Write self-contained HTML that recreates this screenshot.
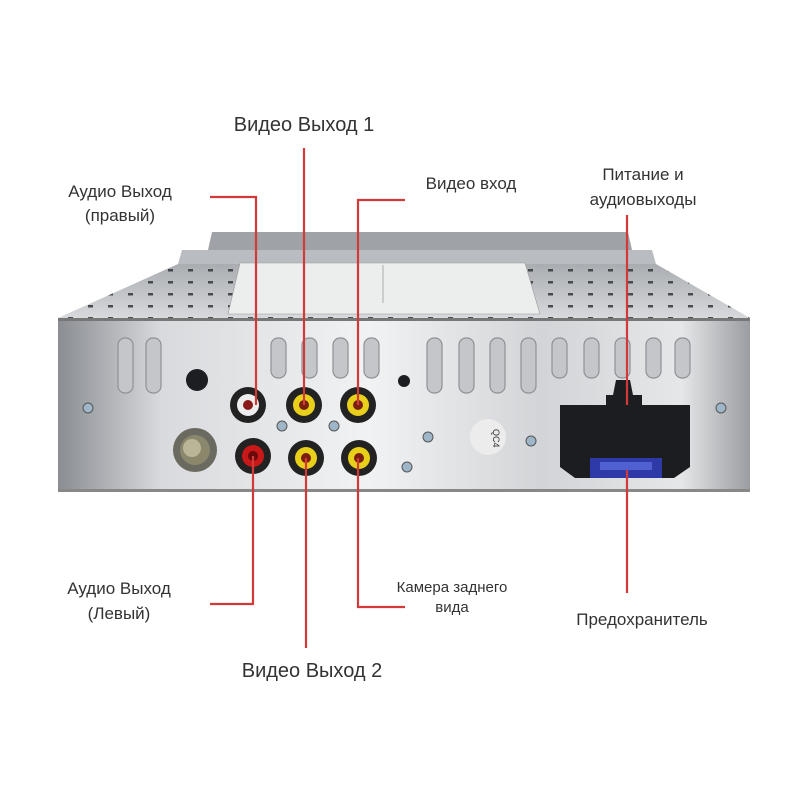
<!DOCTYPE html>
<html><head><meta charset="utf-8"><style>
body{margin:0;background:#fff}
svg{display:block}
text{font-family:"Liberation Sans","DejaVu Sans",sans-serif;fill:#333}
</style></head><body>
<svg width="800" height="800" viewBox="0 0 800 800" xmlns="http://www.w3.org/2000/svg">
<defs>
<linearGradient id="front" x1="0" x2="1" y1="0" y2="0">
<stop offset="0" stop-color="#8a8d92"/><stop offset="0.15" stop-color="#d8dadd"/>
<stop offset="0.45" stop-color="#f1f2f3"/><stop offset="0.7" stop-color="#d2d4d7"/>
<stop offset="0.9" stop-color="#e6e7e9"/><stop offset="1" stop-color="#9a9da1"/>
</linearGradient>
<linearGradient id="top" x1="0" x2="0" y1="0" y2="1">
<stop offset="0" stop-color="#a9acb0"/><stop offset="1" stop-color="#d7d9dc"/>
</linearGradient>
<pattern id="holes" width="20" height="12" patternUnits="userSpaceOnUse">
<rect x="8" y="5" width="5" height="2.5" fill="#2a2c30"/>
</pattern>
</defs>
<!-- top layers -->
<polygon points="212,232 628,232 632,250 208,250" fill="#9fa2a6"/>
<polygon points="182,250 652,250 656,264 178,264" fill="#b9bcc0"/>
<polygon points="178,264 656,264 750,318 58,318" fill="url(#top)"/>
<polygon points="178,264 656,264 750,318 58,318" fill="url(#holes)" opacity="0.8"/>
<polygon points="240,263 525,263 540,314 228,314" fill="#eceded" stroke="#999" stroke-width="0.6"/>
<line x1="383" y1="265" x2="383" y2="303" stroke="#aaa"/>
<!-- front -->
<rect x="58" y="318" width="692" height="174" fill="url(#front)"/>
<rect x="58" y="318" width="692" height="3" fill="#777"/>
<rect x="58" y="489" width="692" height="3" fill="#888"/>
<!-- slots -->
<g fill="#c4c6c9" stroke="#8e9196" stroke-width="1.2">
<rect x="118" y="338" width="15" height="55" rx="7"/>
<rect x="146" y="338" width="15" height="55" rx="7"/>
<rect x="271" y="338" width="15" height="40" rx="7"/>
<rect x="302" y="338" width="15" height="40" rx="7"/>
<rect x="333" y="338" width="15" height="40" rx="7"/>
<rect x="364" y="338" width="15" height="40" rx="7"/>
<rect x="427" y="338" width="15" height="55" rx="7"/>
<rect x="459" y="338" width="15" height="55" rx="7"/>
<rect x="490" y="338" width="15" height="55" rx="7"/>
<rect x="521" y="338" width="15" height="55" rx="7"/>
<rect x="552" y="338" width="15" height="40" rx="7"/>
<rect x="584" y="338" width="15" height="40" rx="7"/>
<rect x="615" y="338" width="15" height="40" rx="7"/>
<rect x="646" y="338" width="15" height="40" rx="7"/>
<rect x="675" y="338" width="15" height="40" rx="7"/>
</g>
<!-- holes -->
<circle cx="197" cy="380" r="11" fill="#1d1e21"/>
<circle cx="404" cy="381" r="6" fill="#1d1e21"/>
<circle cx="195" cy="450" r="22" fill="#6a6a60"/><circle cx="195" cy="450" r="15" fill="#8a876c"/><circle cx="192" cy="448" r="9" fill="#b9b597"/>
<!-- screws -->
<g fill="#9fb6c8" stroke="#555" stroke-width="1">
<circle cx="88" cy="408" r="5"/><circle cx="721" cy="408" r="5"/>
<circle cx="428" cy="437" r="5"/><circle cx="531" cy="441" r="5"/><circle cx="407" cy="467" r="5"/>
<circle cx="282" cy="426" r="5"/><circle cx="334" cy="426" r="5"/>
</g>
<circle cx="488" cy="437" r="18" fill="#ececec"/>
<text x="480" y="432" font-size="9" transform="rotate(90 488 437)" fill="#444">QC4</text>
<!-- RCA -->
<g>
<circle cx="248" cy="405" r="18" fill="#222"/><circle cx="248" cy="405" r="11" fill="#eee"/><circle cx="248" cy="405" r="5" fill="#8a1a1a"/>
<circle cx="304" cy="405" r="18" fill="#222"/><circle cx="304" cy="405" r="11" fill="#e8d01a"/><circle cx="304" cy="405" r="5" fill="#7a1e10"/>
<circle cx="358" cy="405" r="18" fill="#222"/><circle cx="358" cy="405" r="11" fill="#e8d01a"/><circle cx="358" cy="405" r="5" fill="#7a1e10"/>
<circle cx="253" cy="456" r="18" fill="#222"/><circle cx="253" cy="456" r="11" fill="#c81818"/><circle cx="253" cy="456" r="5" fill="#6a0a0a"/>
<circle cx="306" cy="458" r="18" fill="#222"/><circle cx="306" cy="458" r="11" fill="#e8d01a"/><circle cx="306" cy="458" r="5" fill="#7a1e10"/>
<circle cx="359" cy="458" r="18" fill="#222"/><circle cx="359" cy="458" r="11" fill="#e8d01a"/><circle cx="359" cy="458" r="5" fill="#7a1e10"/>
</g>
<!-- connector -->
<polygon points="616,380 630,380 633,395 642,395 642,405 690,405 690,467 674,478 575,478 560,467 560,405 606,405 606,395 613,395" fill="#1c1d20"/>
<rect x="590" y="458" width="72" height="20" fill="#2d3aa8"/>
<rect x="600" y="462" width="52" height="8" fill="#5060d0"/>
<!-- red lines -->
<g stroke="#d23a3a" stroke-width="2.2" fill="none">
<polyline points="210,197 256,197 256,405"/>
<line x1="304" y1="148" x2="304" y2="405"/>
<polyline points="405,200 358,200 358,405"/>
<line x1="627" y1="215" x2="627" y2="405"/>
<polyline points="210,604 253,604 253,456"/>
<line x1="306" y1="458" x2="306" y2="648"/>
<polyline points="405,607 358,607 358,458"/>
<line x1="627" y1="470" x2="627" y2="593"/>
</g>
<!-- labels -->
<g text-anchor="middle">
<text x="304" y="131" font-size="20">Видео Выход 1</text>
<text x="120" y="197" font-size="17">Аудио Выход</text>
<text x="120" y="221" font-size="17">(правый)</text>
<text x="471" y="189" font-size="17">Видео вход</text>
<text x="643" y="180" font-size="17">Питание и</text>
<text x="643" y="205" font-size="17">аудиовыходы</text>
<text x="119" y="594" font-size="17">Аудио Выход</text>
<text x="119" y="619" font-size="17">(Левый)</text>
<text x="452" y="592" font-size="15">Камера заднего</text>
<text x="452" y="612" font-size="15">вида</text>
<text x="312" y="677" font-size="20">Видео Выход 2</text>
<text x="642" y="625" font-size="17">Предохранитель</text>
</g>
</svg>
</body></html>
